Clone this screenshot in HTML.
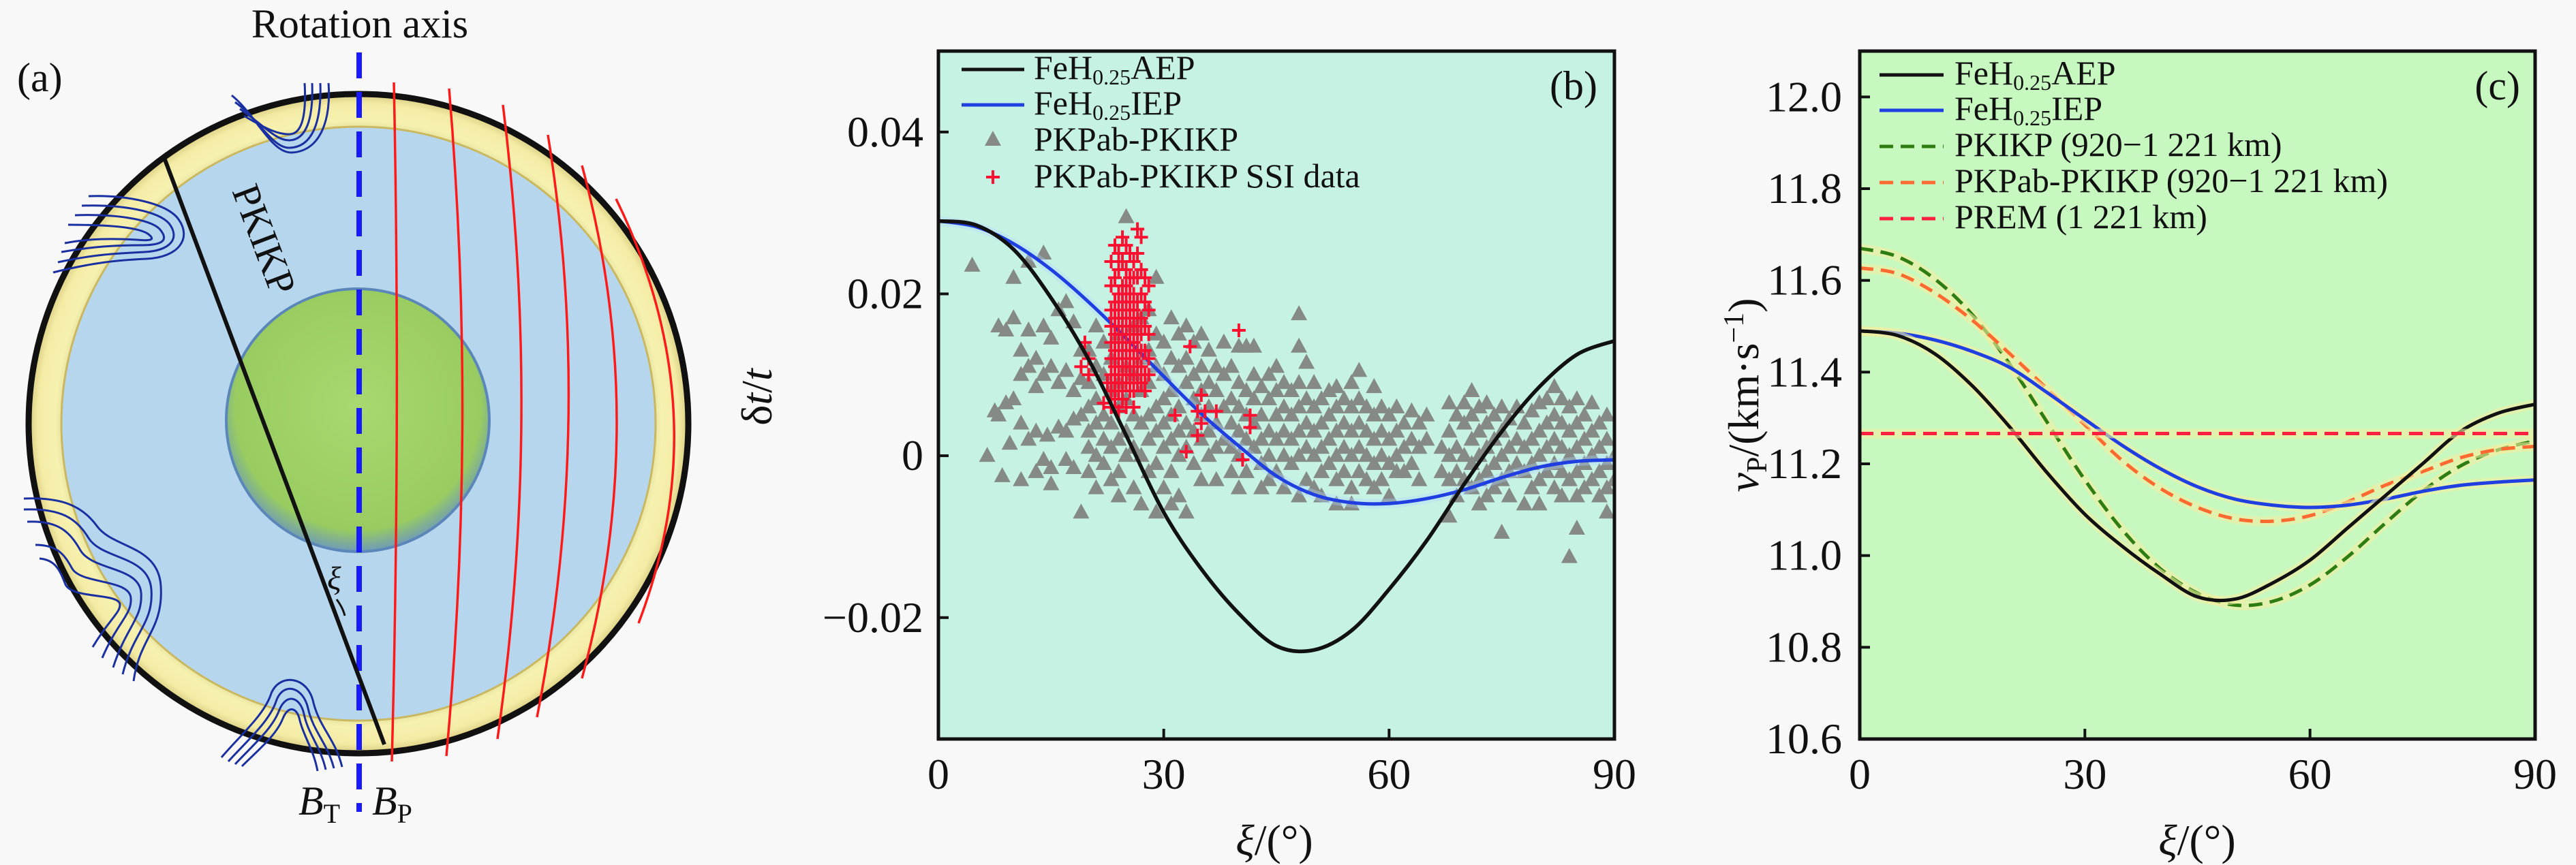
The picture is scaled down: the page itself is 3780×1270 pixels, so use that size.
<!DOCTYPE html>
<html><head><meta charset="utf-8"><style>
html,body{margin:0;padding:0;background:#f8f8f8;}
svg{display:block;font-family:"Liberation Serif",serif;}
text,tspan{font-family:"Liberation Serif",serif;}
</style></head><body>
<svg id="fig" width="3780" height="1270" viewBox="0 0 3780 1270" xmlns="http://www.w3.org/2000/svg">
<defs>
<radialGradient id="coreG" cx="0.5" cy="0.45" r="0.55"><stop offset="0" stop-color="#a8d870"/><stop offset="0.85" stop-color="#98cc60"/><stop offset="1" stop-color="#6f9ab8"/></radialGradient>
<radialGradient id="ringG" cx="0.5" cy="0.5" r="0.5"><stop offset="0.88" stop-color="#d9d890"/><stop offset="0.92" stop-color="#f7f1b0"/><stop offset="0.97" stop-color="#f4eca6"/><stop offset="1" stop-color="#d8cc80"/></radialGradient>
</defs>
<rect width="3780" height="1270" fill="#f8f8f8"/>
<g>
<circle cx="526" cy="622" r="484" fill="url(#ringG)"/>
<circle cx="526" cy="622" r="436" fill="#b6d6ee" stroke="#c9b860" stroke-width="3"/>
<circle cx="525" cy="617" r="193" fill="url(#coreG)" stroke="#5b86b8" stroke-width="4"/>
<circle cx="526" cy="622" r="484" fill="none" stroke="#111" stroke-width="9"/>
<g fill="none" stroke="#ff1a1a" stroke-width="3.5">
<path d="M578,121 Q588,620 575,1118"/>
<path d="M659,130 Q700,620 655,1110"/>
<path d="M738,154 Q796,620 730,1085"/>
<path d="M804,198 Q872,620 788,1053"/>
<path d="M854,243 Q956,620 854,996"/>
<path d="M904,292 Q1056,603 937,915"/>
</g>
<g fill="none" stroke="#1a2fa0" stroke-width="3">
<path d="M345,150 C380,175 400,218 425,217 C458,216 472,180 470,122"/>
<path d="M352,160 C385,182 405,207 425,206 C448,205 460,178 458,122"/>
<path d="M358,170 C388,188 408,198 426,197 C441,196 450,175 447,122"/>
<path d="M340,140 C375,168 398,225 428,224 C472,222 486,172 482,122"/>
<path d="M130,288 C185,286 245,298 262,322 C282,350 262,378 215,380 C170,382 135,386 78,400"/>
<path d="M120,302 C180,300 232,310 248,328 C265,350 250,368 212,370 C170,372 135,374 85,385"/>
<path d="M110,316 C170,314 220,322 234,336 C248,352 240,360 208,360 C170,360 135,362 90,370"/>
<path d="M100,330 C160,330 205,334 218,344 C228,352 222,354 200,352 C165,350 130,350 95,357"/>
<path d="M35,732 C90,730 120,742 142,772 C165,805 232,800 236,860 C240,925 205,935 196,1000"/>
<path d="M35,748 C88,746 112,760 130,790 C150,822 218,815 222,865 C226,915 195,928 180,990"/>
<path d="M40,766 C85,764 102,780 118,808 C136,838 204,832 207,870 C210,908 185,920 166,980"/>
<path d="M52,800 C85,800 95,815 106,835 C120,858 190,850 192,878 C194,902 172,914 150,966"/>
<path d="M58,820 C82,822 88,838 96,858 C106,880 176,870 176,888 C176,900 160,910 136,950"/>
<path d="M335,1118 C360,1090 395,1060 405,1030 C415,1000 445,1008 452,1040 C460,1075 480,1090 490,1128"/>
<path d="M345,1122 C370,1095 400,1070 410,1042 C420,1018 440,1022 446,1048 C452,1078 470,1095 478,1130"/>
<path d="M355,1125 C380,1100 405,1080 415,1055 C423,1035 436,1038 440,1058 C446,1082 460,1100 466,1132"/>
<path d="M325,1112 C350,1082 388,1050 398,1018 C410,988 452,992 460,1032 C470,1070 492,1085 502,1126"/>
</g>
<line x1="527" y1="77" x2="527" y2="1192" stroke="#1a1aff" stroke-width="8" stroke-dasharray="38,20"/>
<line x1="240" y1="229" x2="564" y2="1093" stroke="#111" stroke-width="6"/>
<path d="M494,880 Q503,892 506,904" fill="none" stroke="#111" stroke-width="3"/>
<text x="340" y="280" font-size="58" fill="#111" transform="rotate(69.4 340 280)">PKIKP</text>
<text x="480" y="865" font-size="48" font-style="italic" fill="#111">ξ</text>
<text x="528" y="55" font-size="60" text-anchor="middle" fill="#111">Rotation axis</text>
<text x="25" y="134" font-size="60" fill="#111">(a)</text>
<text x="438" y="1196" font-size="60" font-style="italic" fill="#111">B<tspan font-size="40" font-style="normal" dy="12">T</tspan></text>
<text x="546" y="1196" font-size="60" font-style="italic" fill="#111">B<tspan font-size="40" font-style="normal" dy="12">P</tspan></text>
</g>
<g id="panelB"></g>
<g id="panelC"></g>
</svg>
<script>
const bXi = [0,5,10,15,20,25,30,35,40,45,50,55,60,65,70,75,80,85,90];
const aepDt = [0.0290,0.0285,0.0255,0.0195,0.0119,0.0025,-0.0070,-0.0140,-0.0195,-0.0235,-0.0240,-0.0216,-0.0165,-0.0105,-0.0035,0.0030,0.0085,0.0125,0.0142];
const iepDt = [0.0290,0.0283,0.0262,0.0230,0.0190,0.0145,0.0098,0.0052,0.0012,-0.0025,-0.0048,-0.0058,-0.0059,-0.0053,-0.0042,-0.0027,-0.0014,-0.0007,-0.0005];
const triXi = [4.5,6.5,7.5,8,8.5,9,9.5,10,11,12,13,14,14.5,15,16,17,18,19,20,21,22,23,24,25,26,27,28,29,30,31,32,33,34,35,36,37,38,39,40,41,42,43,44,45,46,47,48,49,50,51,52,53,54,55,56,57,58,59,60,61,62,63,64,65,67,68,69,70,71,72,73,74,75,76,77,78,79,80,81,82,83,84,85,86,87,88,89,90];
const triDt = [[0.0235],[0.0],[0.0055],[0.016,0.005],[-0.0025],[0.0155,0.0065],[0.0015],[0.022,0.017,0.007],[0.013,0.010,0.004,-0.003],[0.024,0.0155,0.011,0.002],[0.012,0.0085,0.003,-0.002],[0.025,0.016,0.010,-0.0005],[0.0025],[0.0145,0.011,-0.0015,-0.0035],[0.018,0.009,0.0035],[0.019,0.0105,0.003,-0.0005],[0.0165,0.008,0.0045,-0.0015],[0.013,0.0095,0.005,-0.007],
[0.013,0.009,0.006,0.003,0.001,-0.002],[0.016,0.011,0.007,0.004,0.0,-0.004],[0.014,0.010,0.005,0.002,-0.001],[0.012,0.008,0.004,0.001,-0.003],[0.015,0.009,0.006,0.002,-0.002,-0.005],[0.0295,0.011,0.007,0.003,0.0],[0.016,0.010,0.005,0.001,-0.004],[0.017,0.012,0.008,0.004,0.0,-0.006],[0.018,0.013,0.009,0.005,0.002,-0.002],[0.022,0.015,0.011,0.006,0.003,-0.001,-0.007],[0.014,0.010,0.007,0.004,0.001,-0.004],[0.017,0.012,0.008,0.005,0.002,-0.002,-0.006],[0.015,0.011,0.006,0.003,0.0,-0.005],[0.016,0.012,0.009,0.004,0.001,-0.007],[0.014,0.010,0.007,0.003,-0.001],[0.015,0.011,0.008,0.005,0.002,-0.003],[0.013,0.009,0.006,0.003,0.0],[0.011,0.008,0.004,0.001,-0.003],[0.014,0.010,0.006,0.002],[0.011,0.007,0.004,0.001,-0.002],[0.0135,0.009,0.006,0.003,0.0,-0.004],[0.0135,0.008,0.005,0.002,-0.002],[0.0135,0.010,0.007,0.004,0.001],[0.0085,0.005,0.002,-0.001,-0.004],[0.010,0.007,0.003,0.0,-0.003],[0.011,0.008,0.005,0.002,-0.002],[0.009,0.006,0.003,0.0,-0.004],[0.008,0.005,0.002,-0.001],[0.0175,0.0135,0.009,0.006,0.003,0.0,-0.005],[0.0115,0.007,0.004,0.001,-0.003],[0.009,0.006,0.003,0.0,-0.004],[0.007,0.004,0.001,-0.002,-0.005],[0.008,0.005,0.002,-0.001],[0.0085,0.006,0.003,0.0,-0.003,-0.006],[0.007,0.004,0.001,-0.002],[0.009,0.006,0.003,0.0,-0.004,-0.006],[0.0105,0.007,0.004,0.001,-0.002],[0.006,0.003,0.0,-0.003],[0.0085,0.005,0.002,-0.001,-0.004],[0.006,0.003,0.0,-0.003],[0.005,0.002,-0.001,-0.005],[0.006,0.003,0.0,-0.002],[0.004,0.001,-0.002],[0.0055,0.002,-0.001],[0.004,0.001,-0.003],[0.005,0.002],[0.001,-0.002],[0.0065,0.003,0.0,-0.003,-0.0075],[0.005,0.001,-0.002,-0.005],[0.0065,0.004,0.0,-0.003],[0.008,0.005,0.002,-0.001,-0.004],[0.006,0.003,0.0,-0.003,-0.006],[0.0065,0.004,0.001,-0.002,-0.005],[0.005,0.002,-0.001,-0.004],[0.006,0.003,0.0,-0.003,-0.0095],[0.0045,0.001,-0.002,-0.005],[0.006,0.002,-0.001],[0.004,0.001,-0.002,-0.006],[0.0055,0.002,-0.001,-0.004],[0.0065,0.003,0.0,-0.003,-0.006],[0.007,0.004,0.001,-0.002],[0.0085,0.005,0.002,-0.001,-0.004],[0.007,0.004,0.001,-0.002,-0.005],[0.006,0.003,0.0,-0.003,-0.0125],[0.007,0.004,0.001,-0.002,-0.009,-0.005],[0.005,0.002,-0.001,-0.004],[0.0065,0.003,0.0,-0.003],[0.004,0.001,-0.002,-0.005],[0.005,0.002,-0.001,-0.004,-0.007],[0.0,-0.003]];
const ssiXi = [19,19.5,20,22,22.5,23,23.5,24,24.5,25,25.5,26,26.5,27,27.5,28,31.5,33,33.5,34.5,35,35.5,37,40,40.5,41.5];
const ssiDt = [[0.011],[0.014],[0.012,0.010],[0.0065],[0.009],[0.024,0.021,0.018,0.016,0.014,0.012,0.010,0.008,0.006],[0.026,0.022,0.019,0.017,0.015,0.013,0.011,0.009,0.007],[0.025,0.023,0.020,0.018,0.016,0.014,0.012,0.010,0.008,0.0055],[0.027,0.024,0.021,0.019,0.017,0.015,0.013,0.011,0.009,0.007],[0.026,0.023,0.021,0.019,0.017,0.015,0.013,0.011,0.009,0.006],[0.025,0.022,0.020,0.018,0.016,0.014,0.012,0.010,0.008],[0.024,0.022,0.020,0.018,0.016,0.014,0.012,0.010,0.008,0.006],[0.028,0.025,0.022,0.019,0.017,0.015,0.013,0.011,0.009],[0.027,0.023,0.020,0.017,0.015,0.013,0.011,0.009],[0.022,0.019,0.016,0.013,0.010,0.008],[0.021,0.018,0.015,0.012,0.010],[0.005],[0.0005],[0.0135],[0.0055,0.0025],[0.004,0.0075],[0.0055],[0.0055],[0.0155],[-0.0005],[0.005,0.0035]];
const bYTicks = [0.04,0.02,0,-0.02];
const bYTickLabels = ["0.04","0.02","0","\u22120.02"];
const xTicks = [0,30,60,90];
const xTickLabels = ["0","30","60","90"];
const cXi = [0,5,10,15,20,25,30,35,40,45,50,55,60,65,70,75,80,85,90];
const aepV = [11.49,11.48,11.44,11.37,11.28,11.18,11.09,11.02,10.96,10.91,10.905,10.94,10.99,11.06,11.13,11.20,11.27,11.31,11.33];
const iepV = [11.49,11.485,11.47,11.445,11.41,11.355,11.297,11.24,11.19,11.15,11.123,11.11,11.105,11.11,11.123,11.14,11.153,11.16,11.165];
const pkikpV = [11.67,11.652,11.603,11.525,11.417,11.29,11.165,11.056,10.972,10.918,10.892,10.90,10.936,10.997,11.07,11.14,11.195,11.23,11.25];
const pkpabV = [11.627,11.615,11.573,11.513,11.44,11.363,11.285,11.207,11.147,11.105,11.08,11.075,11.087,11.117,11.153,11.183,11.213,11.231,11.238];
const premV = 11.266;
const cYTicks = [12.0,11.8,11.6,11.4,11.2,11.0,10.8,10.6];
const cYTickLabels = ["12.0","11.8","11.6","11.4","11.2","11.0","10.8","10.6"];

const NS="http://www.w3.org/2000/svg";
function mk(tag, attrs, parent){const e=document.createElementNS(NS,tag);for(const k in attrs)e.setAttribute(k,attrs[k]);parent.appendChild(e);return e;}
function smooth(pts){let d="M"+pts[0][0].toFixed(1)+","+pts[0][1].toFixed(1);
 for(let i=0;i<pts.length-1;i++){const p0=pts[Math.max(i-1,0)],p1=pts[i],p2=pts[i+1],p3=pts[Math.min(i+2,pts.length-1)];
  const c1=[p1[0]+(p2[0]-p0[0])/6,p1[1]+(p2[1]-p0[1])/6],c2=[p2[0]-(p3[0]-p1[0])/6,p2[1]-(p3[1]-p1[1])/6];
  d+=" C"+c1[0].toFixed(1)+","+c1[1].toFixed(1)+" "+c2[0].toFixed(1)+","+c2[1].toFixed(1)+" "+p2[0].toFixed(1)+","+p2[1].toFixed(1);}
 return d;}

(function(){
const g=document.getElementById('panelB');
const L=1377,R=2369,T=75,B=1085,y0=-0.035,y1=0.05;
const X=v=>L+(v/90)*(R-L), Y=v=>B-(v-y0)/(y1-y0)*(B-T);
const bg=mk('rect',{x:L,y:T,width:R-L,height:B-T,fill:'#c6f2e3'},g);


const clip=mk('clipPath',{id:'clipB'},g);mk('rect',{x:L,y:T,width:R-L,height:B-T},clip);
const marks=mk('g',{'clip-path':'url(#clipB)'},g);
const tri=mk('g',{fill:'#858a86'},marks);


triXi.forEach((xi,i)=>{triDt[i].forEach(v=>{const cx=X(xi),cy=Y(v);
 const p=mk('polygon',{points:`${cx},${cy-13} ${cx-12},${cy+9} ${cx+12},${cy+9}`},tri);
 
 });});
const halo=(d,c)=>mk('path',{d:d,fill:'none',stroke:c,'stroke-width':14,opacity:0.35},marks);
const iepPts=bXi.map((x,i)=>[X(x),Y(iepDt[i])]);
const aepPts=bXi.map((x,i)=>[X(x),Y(aepDt[i])]);
halo(smooth(iepPts),'#b0d8ff');
const iep=mk('path',{d:smooth(iepPts),fill:'none',stroke:'#1f3fe0','stroke-width':5},marks);


const cr=mk('g',{stroke:'#ff1030','stroke-width':4},marks);


ssiXi.forEach((xi,i)=>{ssiDt[i].forEach(v=>{const cx=X(xi),cy=Y(v);
 const p=mk('path',{d:`M${cx-10},${cy}H${cx+10}M${cx},${cy-10}V${cy+10}`},cr);
 
 });});
const aep=mk('path',{d:smooth(aepPts),fill:'none',stroke:'#111','stroke-width':5.5},marks);


mk('rect',{x:L,y:T,width:R-L,height:B-T,fill:'none',stroke:'#111','stroke-width':5},g);
bYTicks.forEach((v,i)=>{mk('line',{x1:L,x2:L+15,y1:Y(v),y2:Y(v),stroke:'#111','stroke-width':4},g);
 const t=mk('text',{x:1355,y:Y(v)+21,'font-size':64,'text-anchor':'end',fill:'#111'},g);t.textContent=bYTickLabels[i];
 
 });
xTicks.forEach((v,i)=>{mk('line',{x1:X(v),x2:X(v),y1:B,y2:B-15,stroke:'#111','stroke-width':4},g);
 const t=mk('text',{x:X(v),y:1158,'font-size':64,'text-anchor':'middle',fill:'#111'},g);t.textContent=xTickLabels[i];
 
 });
const yl=mk('text',{x:1132,y:583,'font-size':64,'text-anchor':'middle',fill:'#111',transform:'rotate(-90 1132 583)'},g);
yl.innerHTML='δ<tspan font-style="italic">t</tspan>/<tspan font-style="italic">t</tspan>';


const xl=mk('text',{x:1870,y:1255,'font-size':64,'text-anchor':'middle',fill:'#111'},g);
xl.innerHTML='<tspan font-style="italic">ξ</tspan>/(°)';


const pl=mk('text',{x:2344,y:146,'font-size':60,'text-anchor':'end',fill:'#111'},g);pl.textContent='(b)';


const lg=mk('g',{},g);


const rows=[116,168,221,275];
mk('line',{x1:1411,x2:1503,y1:rows[0]-14,y2:rows[0]-14,stroke:'#111','stroke-width':5},lg);
mk('line',{x1:1411,x2:1503,y1:rows[1]-14,y2:rows[1]-14,stroke:'#1f3fe0','stroke-width':5},lg);
mk('polygon',{points:`1457,${rows[2]-29} 1445,${rows[2]-7} 1469,${rows[2]-7}`,fill:'#858a86'},lg);
mk('path',{d:`M1447,${rows[3]-15}H1467M1457,${rows[3]-25}V${rows[3]-5}`,stroke:'#ff1030','stroke-width':4},lg);
const texts=['FeH<tspan font-size="32" dy="8">0.25</tspan><tspan dy="-8">AEP</tspan>','FeH<tspan font-size="32" dy="8">0.25</tspan><tspan dy="-8">IEP</tspan>','PKPab-PKIKP','PKPab-PKIKP SSI data'];
texts.forEach((s,i)=>{const t=mk('text',{x:1517,y:rows[i],'font-size':50,fill:'#111'},lg);t.innerHTML=s;
 
 });
})();

(function(){
const g=document.getElementById('panelC');
const L=2729,R=3720,T=75,B=1085,y0=10.6,y1=12.1;
const X=v=>L+(v/90)*(R-L), Y=v=>B-(v-y0)/(y1-y0)*(B-T);
const bg=mk('rect',{x:L,y:T,width:R-L,height:B-T,fill:'#c6f8c0'},g);


const clip=mk('clipPath',{id:'clipC'},g);mk('rect',{x:L,y:T,width:R-L,height:B-T},clip);
const marks=mk('g',{'clip-path':'url(#clipC)'},g);
const series=[[pkikpV,'#2e7d12','20,11','pkikp-curve'],[pkpabV,'#ff6a30','20,11','pkpab-pkikp-curve'],[iepV,'#1f3fe0',null,'iep-curve-c'],[aepV,'#111',null,'aep-curve-c']];
series.forEach(s=>{const pts=cXi.map((x,i)=>[X(x),Y(s[0][i])]);const d=smooth(pts);
 mk('path',{d:d,fill:'none',stroke:'#f2efa0','stroke-width':14,opacity:0.6},marks);
 const a={d:d,fill:'none',stroke:s[1],'stroke-width':5};if(s[2])a['stroke-dasharray']=s[2];
 const p=mk('path',a,marks);
 
 });
mk('line',{x1:L,x2:R,y1:Y(premV),y2:Y(premV),stroke:'#f2efa0','stroke-width':14,opacity:0.6},marks);
const pr=mk('line',{x1:L,x2:R,y1:Y(premV),y2:Y(premV),stroke:'#ff2040','stroke-width':5,'stroke-dasharray':'20,11'},marks);


mk('rect',{x:L,y:T,width:R-L,height:B-T,fill:'none',stroke:'#111','stroke-width':5},g);
cYTicks.forEach((v,i)=>{mk('line',{x1:L,x2:L+15,y1:Y(v),y2:Y(v),stroke:'#111','stroke-width':4},g);
 const t=mk('text',{x:2703,y:Y(v)+21,'font-size':64,'text-anchor':'end',fill:'#111'},g);t.textContent=cYTickLabels[i];
 
 });
xTicks.forEach((v,i)=>{mk('line',{x1:X(v),x2:X(v),y1:B,y2:B-15,stroke:'#111','stroke-width':4},g);
 const t=mk('text',{x:X(v),y:1158,'font-size':64,'text-anchor':'middle',fill:'#111'},g);t.textContent=xTickLabels[i];
 
 });
const yl=mk('text',{x:2580,y:580,'font-size':64,'text-anchor':'middle',fill:'#111',transform:'rotate(-90 2580 580)'},g);
yl.innerHTML='<tspan font-style="italic">v</tspan><tspan font-size="42" dy="12">P</tspan><tspan dy="-12">/(km·s</tspan><tspan font-size="42" dy="-22">−1</tspan><tspan dy="22">)</tspan>';


const xl=mk('text',{x:3224,y:1255,'font-size':64,'text-anchor':'middle',fill:'#111'},g);
xl.innerHTML='<tspan font-style="italic">ξ</tspan>/(°)';


const pl=mk('text',{x:3698,y:146,'font-size':60,'text-anchor':'end',fill:'#111'},g);pl.textContent='(c)';


const lg=mk('g',{},g);


const rows=[124,176,229,282,335];
const sty=[['#111',null],['#1f3fe0',null],['#2e7d12','20,11'],['#ff6a30','20,11'],['#ff2040','20,11']];
const texts=['FeH<tspan font-size="32" dy="8">0.25</tspan><tspan dy="-8">AEP</tspan>','FeH<tspan font-size="32" dy="8">0.25</tspan><tspan dy="-8">IEP</tspan>','PKIKP (920−1 221 km)','PKPab-PKIKP (920−1 221 km)','PREM (1 221 km)'];
rows.forEach((y,i)=>{const a={x1:2758,x2:2852,y1:y-14,y2:y-14,stroke:sty[i][0],'stroke-width':5};if(sty[i][1])a['stroke-dasharray']=sty[i][1];mk('line',a,lg);
 const t=mk('text',{x:2868,y:y,'font-size':50,fill:'#111'},lg);t.innerHTML=texts[i];
 
 });
})();
</script>
</body></html>
